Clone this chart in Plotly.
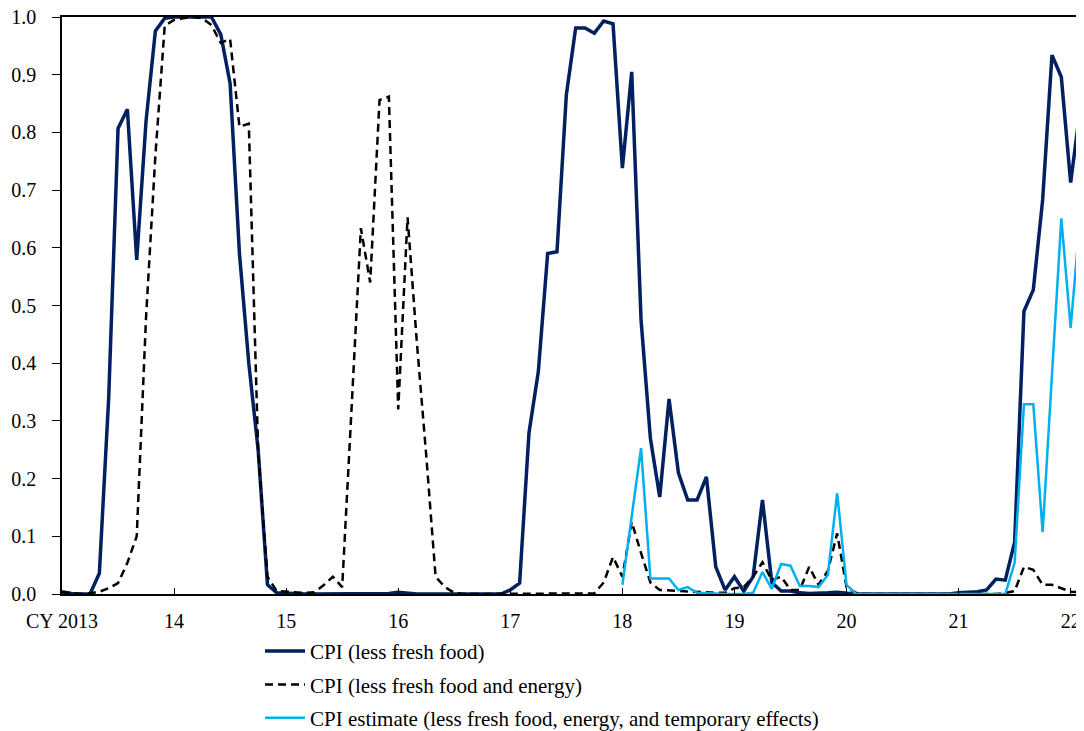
import plotly.graph_objects as go

months = list(range(110))
tick_vals = [0, 12, 24, 36, 48, 60, 72, 84, 96, 108]
tick_text = ["CY 2013", "14", "15", "16", "17", "18", "19", "20", "21", "22"]

cpi_less_fresh_food = [
    0.004, 0.001, 0.0, 0.0, 0.036, 0.34, 0.807, 0.84, 0.579, 0.82, 0.976, 0.998,
    1.0, 1.0, 1.0, 1.0, 1.0, 0.97, 0.885, 0.59, 0.40, 0.25, 0.016, 0.002,
    0.001, 0.0, 0.0, 0.0, 0.0, 0.0, 0.0, 0.0, 0.0, 0.0, 0.0, 0.001,
    0.003, 0.001, 0.0, 0.0, 0.0, 0.0, 0.0, 0.0, 0.0, 0.0, 0.0, 0.0,
    0.007, 0.019, 0.279, 0.385, 0.59, 0.593, 0.865, 0.981, 0.981, 0.972, 0.993, 0.988,
    0.738, 0.905, 0.475, 0.27, 0.168, 0.338, 0.21, 0.163, 0.163, 0.203, 0.047, 0.007,
    0.03, 0.005, 0.03, 0.163, 0.02, 0.005, 0.005, 0.002, 0.001, 0.001, 0.002, 0.003,
    0.001, 0.0, 0.0, 0.0, 0.0, 0.0, 0.0, 0.0, 0.0, 0.0, 0.0, 0.0,
    0.002, 0.003, 0.004, 0.007, 0.026, 0.024, 0.09, 0.49, 0.527, 0.683, 0.934, 0.896,
    0.713, 0.839,
]

cpi_less_fresh_food_energy = [
    0.003, 0.001, 0.0, 0.001, 0.004, 0.01, 0.019, 0.054, 0.10, 0.48, 0.76, 0.985,
    0.995, 0.998, 1.0, 0.998, 0.986, 0.955, 0.962, 0.81, 0.815, 0.25, 0.03, 0.005,
    0.004, 0.002, 0.002, 0.003, 0.015, 0.03, 0.012, 0.32, 0.634, 0.54, 0.856, 0.862,
    0.32, 0.653, 0.435, 0.24, 0.03, 0.012, 0.002, 0.0, 0.0, 0.0, 0.0, 0.0,
    0.0, 0.0, 0.0, 0.0, 0.0, 0.0, 0.0, 0.0, 0.0, 0.001, 0.02, 0.064,
    0.03, 0.125, 0.071, 0.02, 0.007, 0.006, 0.005, 0.004, 0.003, 0.002, 0.002, 0.002,
    0.01, 0.012, 0.03, 0.055, 0.024, 0.03, 0.007, 0.007, 0.047, 0.016, 0.04, 0.105,
    0.012, 0.002, 0.0, 0.0, 0.0, 0.0, 0.0, 0.0, 0.0, 0.0, 0.0, 0.0,
    0.0, 0.0, 0.0, 0.0, 0.0, 0.002, 0.005, 0.047, 0.042, 0.016, 0.016, 0.01,
    0.004, 0.003,
]

cpi_estimate = [None] * 60 + [
    0.016, 0.135, 0.253, 0.027, 0.027, 0.027, 0.007, 0.012, 0.002, 0.001, 0.0, 0.0,
    0.0, 0.0, 0.002, 0.038, 0.009, 0.052, 0.049, 0.014, 0.014, 0.012, 0.033, 0.175,
    0.016, 0.0, 0.0, 0.0, 0.0, 0.0, 0.0, 0.0, 0.0, 0.0, 0.0, 0.0,
    0.0, 0.0, 0.0, 0.0, 0.0, 0.0, 0.054, 0.329, 0.329, 0.107, 0.38, 0.651,
    0.461, 0.651,
]

font_family = "Liberation Serif"

fig = go.Figure()
fig.add_trace(go.Scatter(
    x=months, y=cpi_less_fresh_food, mode="lines",
    name="CPI (less fresh food)", legendgroup="a",
    line=dict(color="#002060", width=3.5),
))
fig.add_trace(go.Scatter(
    x=months, y=cpi_less_fresh_food_energy, mode="lines",
    name="CPI (less fresh food and energy)", legendgroup="b",
    line=dict(color="#000000", width=2.5, dash="8px,5px"),
))
fig.add_trace(go.Scatter(
    x=months, y=cpi_estimate, mode="lines",
    name="CPI estimate (less fresh food, energy, and temporary effects)", legendgroup="c",
    line=dict(color="#00B0F0", width=2.5),
))

# The page has an 8px body margin, so the figure is offset by 8px inside the window
fig.update_layout(
    width=1076, height=723,
    margin=dict(l=54, r=4, t=9, b=137, autoexpand=False),
    paper_bgcolor="white", plot_bgcolor="white",
    font=dict(family=font_family, size=20, color="#000000"),
    showlegend=True,
    legend=dict(
        x=0.1945, xanchor="left", y=-0.064, yanchor="top",
        orientation="v", font=dict(size=21, family=font_family),
        tracegroupgap=3, itemwidth=40, bgcolor="rgba(0,0,0,0)",
    ),
)
fig.update_xaxes(
    range=[0, 109], tickmode="array", tickvals=tick_vals, ticktext=tick_text,
    ticks="inside", ticklen=6, tickcolor="#000000", tickwidth=1,
    showline=True, linecolor="#000000", linewidth=1.5, mirror=True,
    showgrid=False, zeroline=False, automargin=False, ticklabelstandoff=8,
    ticklabeloverflow="allow",
    tickfont=dict(size=20, family=font_family),
)
fig.update_yaxes(
    range=[0, 1.0], dtick=0.1, tick0=0, tickformat=".1f",
    ticks="outside", ticklen=8, tickcolor="#000000", tickwidth=1,
    showline=True, linecolor="#000000", linewidth=1.5, mirror=True,
    showgrid=False, zeroline=False, automargin=False, ticklabelstandoff=12,
    ticklabeloverflow="allow",
    tickfont=dict(size=20, family=font_family),
)

fig.write_html("out.html")
